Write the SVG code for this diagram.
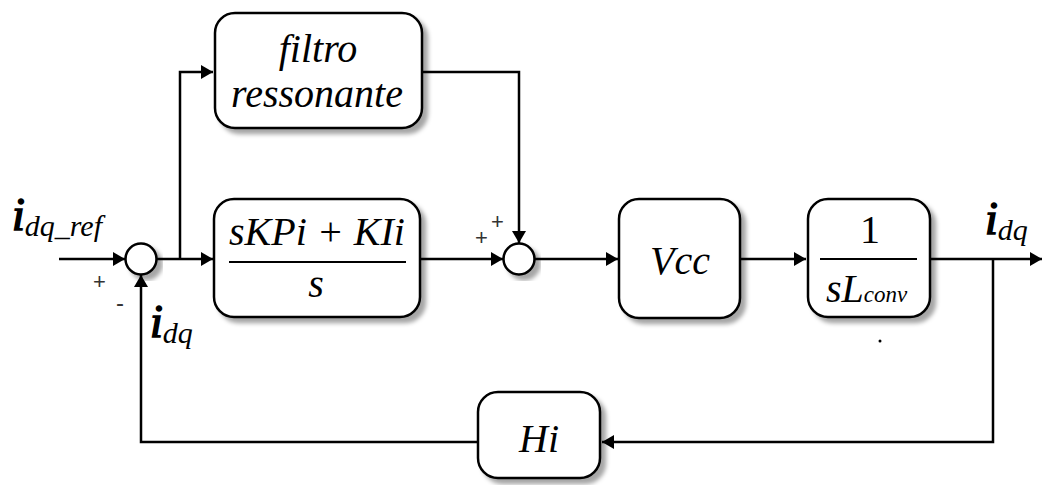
<svg xmlns="http://www.w3.org/2000/svg" width="1044" height="485" viewBox="0 0 1044 485">
<defs>
<filter id="sh" x="-20%" y="-20%" width="140%" height="140%">
<feDropShadow dx="5" dy="5" stdDeviation="2" flood-color="#000" flood-opacity="0.35"/>
</filter>
<marker id="ar" markerWidth="12" markerHeight="14" refX="12" refY="7" orient="auto" markerUnits="userSpaceOnUse">
<path d="M0,0 L12,7 L0,14 Z" fill="#000"/>
</marker>
</defs>
<rect width="1044" height="485" fill="#fff"/>
<g id="connectors" fill="none" stroke="#000" stroke-width="2.5">
<path d="M59,259 H125" marker-end="url(#ar)"/>
<path d="M156,259 H213" marker-end="url(#ar)"/>
<path d="M180,259 V72 H213" marker-end="url(#ar)"/>
<path d="M422,72 H519 V243" marker-end="url(#ar)"/>
<path d="M420,259 H503" marker-end="url(#ar)"/>
<path d="M534,259 H618" marker-end="url(#ar)"/>
<path d="M741,259 H806" marker-end="url(#ar)"/>
<path d="M930,259 H1042" marker-end="url(#ar)"/>
<path d="M993,259 V442 H602" marker-end="url(#ar)"/>
<path d="M478,442 H141 V275" marker-end="url(#ar)"/>
</g>
<g id="sum1"><circle cx="141" cy="259" r="15.5" fill="#fff" stroke="#000" stroke-width="2.5" filter="url(#sh)"/></g>
<g id="sum2"><circle cx="519" cy="259" r="15.5" fill="#fff" stroke="#000" stroke-width="2.5" filter="url(#sh)"/></g>
<g id="filtro">
<rect x="215" y="13" width="207" height="115" rx="20" fill="#fff" stroke="#000" stroke-width="2.5" filter="url(#sh)"/>
<text x="318" y="62" font-size="40" font-family="Liberation Serif" font-style="italic" text-anchor="middle">filtro</text>
<text x="317" y="107" font-size="40" font-family="Liberation Serif" font-style="italic" text-anchor="middle">ressonante</text>
</g>
<g id="pi">
<rect x="214" y="199" width="206" height="118" rx="20" fill="#fff" stroke="#000" stroke-width="2.5" filter="url(#sh)"/>
<text x="317" y="245" font-size="40" font-family="Liberation Serif" font-style="italic" text-anchor="middle">sKPi + KIi</text>
<line x1="229" y1="262" x2="406" y2="262" stroke="#000" stroke-width="2"/>
<text x="316" y="297" font-size="40" font-family="Liberation Serif" font-style="italic" text-anchor="middle">s</text>
</g>
<g id="vcc">
<rect x="619" y="199" width="121" height="119" rx="20" fill="#fff" stroke="#000" stroke-width="2.5" filter="url(#sh)"/>
<text x="680" y="274" font-size="40" font-family="Liberation Serif" font-style="italic" text-anchor="middle">Vcc</text>
</g>
<g id="plant">
<rect x="808" y="199" width="122" height="118" rx="20" fill="#fff" stroke="#000" stroke-width="2.5" filter="url(#sh)"/>
<text x="870" y="243" font-size="40" font-family="Liberation Serif" text-anchor="middle">1</text>
<line x1="820" y1="259" x2="917" y2="259" stroke="#000" stroke-width="2"/>
<text x="826" y="302" font-size="40" font-family="Liberation Serif" font-style="italic">sL<tspan font-size="23">conv</tspan></text>
<circle cx="880" cy="341" r="1.5" fill="#000"/>
</g>
<g id="hi">
<rect x="478" y="392" width="122" height="86" rx="20" fill="#fff" stroke="#000" stroke-width="2.5" filter="url(#sh)"/>
<text x="539" y="452" font-size="40" font-family="Liberation Serif" font-style="italic" text-anchor="middle">Hi</text>
</g>
<g id="labels">
<text x="12" y="230" font-size="46" font-family="Liberation Serif" font-style="italic"><tspan stroke="#000" stroke-width="1.6">i</tspan><tspan font-size="30" dy="6">dq_ref</tspan></text>
<text x="150" y="337" font-size="46" font-family="Liberation Serif" font-style="italic"><tspan stroke="#000" stroke-width="1.6">i</tspan><tspan font-size="30" dy="6">dq</tspan></text>
<text x="985" y="234" font-size="46" font-family="Liberation Serif" font-style="italic"><tspan stroke="#000" stroke-width="1.6">i</tspan><tspan font-size="30" dy="6">dq</tspan></text>
<text x="93" y="289" font-size="22" font-family="Liberation Sans" fill="#333">+</text>
<text x="116" y="311" font-size="24" font-family="Liberation Sans" fill="#333">-</text>
<text x="475" y="245" font-size="22" font-family="Liberation Sans" fill="#333">+</text>
<text x="491" y="229" font-size="22" font-family="Liberation Sans" fill="#333">+</text>
</g>
</svg>
